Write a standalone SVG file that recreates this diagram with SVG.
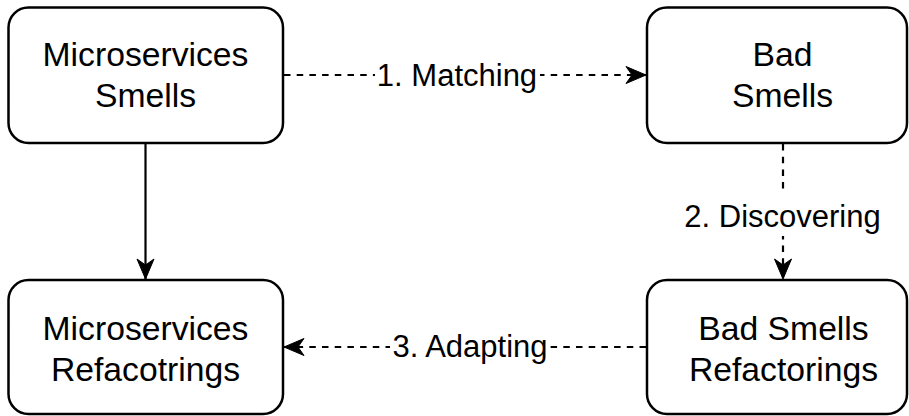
<svg xmlns="http://www.w3.org/2000/svg" width="909" height="416" viewBox="0 0 909 416">
  <style>
    .box { fill: #ffffff; stroke: #000000; stroke-width: 2.5; }
    .node-text { font-family: "Liberation Sans", Arial, sans-serif; font-size: 33.7px; fill: #000000; text-anchor: middle; }
    .edge { fill: none; stroke: #000000; stroke-width: 2.2; }
    .dashed { stroke-dasharray: 6.5 6.2; }
    .edge-label { font-family: "Liberation Sans", Arial, sans-serif; font-size: 31px; fill: #000000; text-anchor: middle; }
    .label-bg { fill: #ffffff; }
  </style>
  <defs>
    <marker id="arrow" markerUnits="userSpaceOnUse" markerWidth="24" markerHeight="20" viewBox="-21 -10 22 20" refX="0" refY="0" orient="auto">
      <path d="M0,0 L-20,-8.5 L-14,0 L-20,8.5 Z" fill="#000000" stroke="#000000" stroke-width="1" stroke-linejoin="miter"/>
    </marker>
  </defs>

  <g id="connectors">
    <!-- 1. Matching -->
    <line class="edge dashed" x1="284" y1="75" x2="646" y2="75" marker-end="url(#arrow)"/>
    <rect class="label-bg" x="375" y="60" width="165" height="32"/>
    <text class="edge-label" x="457" y="86">1. Matching</text>

    <!-- solid link between the left-hand nodes -->
    <line class="edge" x1="145.5" y1="143" x2="145.5" y2="279" marker-end="url(#arrow)"/>

    <!-- 2. Discovering -->
    <line class="edge dashed" x1="783" y1="144" x2="783" y2="279" marker-end="url(#arrow)"/>
    <rect class="label-bg" x="680" y="192" width="205" height="44"/>
    <text class="edge-label" x="782.5" y="227">2. Discovering</text>

    <!-- 3. Adapting -->
    <line class="edge dashed" x1="646" y1="347" x2="284" y2="347" marker-end="url(#arrow)"/>
    <rect class="label-bg" x="390" y="332" width="160" height="32"/>
    <text class="edge-label" x="470" y="357">3. Adapting</text>
  </g>

  <g id="microservices-smells">
    <rect class="box" x="8.5" y="7.5" width="274.5" height="135.5" rx="20" ry="20"/>
    <text class="node-text" x="145.5" y="66">Microservices</text>
    <text class="node-text" x="145.5" y="107">Smells</text>
  </g>

  <g id="bad-smells">
    <rect class="box" x="647" y="7.5" width="260" height="135.5" rx="20" ry="20"/>
    <text class="node-text" x="782.5" y="66">Bad</text>
    <text class="node-text" x="782.5" y="107">Smells</text>
  </g>

  <g id="microservices-refactorings">
    <rect class="box" x="8.5" y="280" width="274.5" height="134" rx="20" ry="20"/>
    <text class="node-text" x="145.5" y="340">Microservices</text>
    <text class="node-text" x="145.5" y="381">Refacotrings</text>
  </g>

  <g id="bad-smells-refactorings">
    <rect class="box" x="647" y="280" width="260" height="134" rx="20" ry="20"/>
    <text class="node-text" x="783.5" y="340">Bad Smells</text>
    <text class="node-text" x="783.5" y="381">Refactorings</text>
  </g>
</svg>
